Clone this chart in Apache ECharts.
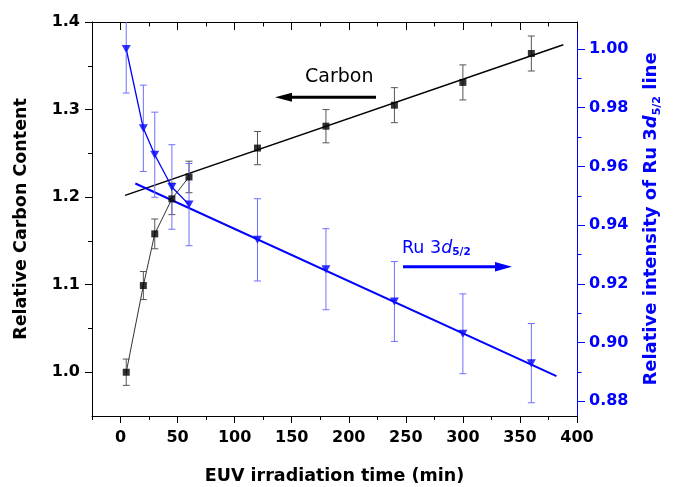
<!DOCTYPE html>
<html>
<head>
<meta charset="utf-8">
<script src="https://cdn.jsdelivr.net/npm/echarts@6/dist/echarts.min.js"></script>
<style>
html,body{margin:0;padding:0;background:#fff;}
#c{width:673px;height:487px;}
</style>
</head>
<body>
<div id="c"></div>
<script>
// ---- data ----
var times = [5, 20, 30, 45, 60, 120, 180, 240, 300, 360];
var carbon = [1.000, 1.099, 1.158, 1.198, 1.223, 1.256, 1.281, 1.305, 1.331, 1.364];
var carbonErr = [0.015, 0.016, 0.017, 0.018, 0.018, 0.019, 0.019, 0.020, 0.020, 0.020];
var ru = [1.000, 0.973, 0.964, 0.953, 0.947, 0.935, 0.925, 0.914, 0.903, 0.893];
var ruErr = [0.015, 0.0147, 0.0145, 0.0144, 0.014, 0.014, 0.0138, 0.0136, 0.0136, 0.0135];
var earlyCount = 5; // points joined by a thin line
var carbonFitX = [4, 388];
var carbonFitY = [1.202, 1.374];
var ruFitX = [13, 382];
var ruFitY = [0.9542, 0.8886];

var xMajor = [0, 50, 100, 150, 200, 250, 300, 350, 400];
var xMinor = [-25, 25, 75, 125, 175, 225, 275, 325, 375];
var leftMajor = [1.0, 1.1, 1.2, 1.3, 1.4];
var leftMinor = [1.05, 1.15, 1.25, 1.35];
var rightMajor = [0.88, 0.90, 0.92, 0.94, 0.96, 0.98, 1.00];
var rightMinor = [0.89, 0.91, 0.93, 0.95, 0.97, 0.99];

// ---- build ----
function pairs(xs, ys, n) {
  var out = [];
  for (var i = 0; i < (n || xs.length); i++) out.push([xs[i], ys[i]]);
  return out;
}
function errData(xs, ys, es) {
  var out = [];
  for (var i = 0; i < xs.length; i++) out.push([xs[i], ys[i] - es[i], ys[i] + es[i]]);
  return out;
}
function errRender(color) {
  return function (params, api) {
    var x = api.value(0);
    var lo = api.coord([x, api.value(1)]);
    var hi = api.coord([x, api.value(2)]);
    var w = 3.5;
    var st = { stroke: color, lineWidth: 1 };
    return {
      type: 'group',
      children: [
        { type: 'line', shape: { x1: lo[0], y1: lo[1], x2: hi[0], y2: hi[1] }, style: st },
        { type: 'line', shape: { x1: lo[0] - w, y1: lo[1], x2: lo[0] + w, y2: lo[1] }, style: st },
        { type: 'line', shape: { x1: hi[0] - w, y1: hi[1], x2: hi[0] + w, y2: hi[1] }, style: st }
      ]
    };
  };
}

var FF = 'DejaVu Sans';
var BLUE = '#0000ff';
var XMIN = -25, XMAX = 400;
var LMIN = 0.95, LMAX = 1.4;
var RMIN = 0.875, RMAX = 1.0092;

function line(color, show) {
  return { show: show, onZero: false, lineStyle: { color: color, width: 1 } };
}

var chart = echarts.init(document.getElementById('c'), null, { renderer: 'canvas' });
var option = {
  animation: false,
  backgroundColor: '#fff',
  grid: { left: 92, right: 96, top: 22, bottom: 71, containLabel: false, outerBoundsMode: 'none' },
  xAxis: [
    {
      type: 'value', position: 'bottom', min: XMIN, max: XMAX, interval: 25,
      axisLine: line('#000', true),
      axisTick: { show: true, customValues: xMajor, length: 7, lineStyle: { color: '#000', width: 1 } },
      axisLabel: { customValues: xMajor, margin: 14, color: '#000', fontSize: 16, fontWeight: 'bold', fontFamily: FF },
      splitLine: { show: false },
      name: 'EUV irradiation time (min)', nameLocation: 'middle', nameGap: 51,
      nameTextStyle: { color: '#000', fontSize: 17.5, fontWeight: 'bold', fontFamily: FF }
    },
    {
      type: 'value', position: 'bottom', min: XMIN, max: XMAX, interval: 25,
      axisLine: line('#000', false),
      axisTick: { show: true, customValues: xMinor, length: 4, lineStyle: { color: '#000', width: 1 } },
      axisLabel: { show: false }, splitLine: { show: false }
    },
    {
      type: 'value', position: 'top', min: XMIN, max: XMAX, interval: 25,
      axisLine: line('#000', true),
      axisTick: { show: true, inside: true, customValues: xMajor, length: 8, lineStyle: { color: '#000', width: 1 } },
      axisLabel: { show: false }, splitLine: { show: false }
    },
    {
      type: 'value', position: 'top', min: XMIN, max: XMAX, interval: 25,
      axisLine: line('#000', false),
      axisTick: { show: true, inside: true, customValues: xMinor, length: 4.5, lineStyle: { color: '#000', width: 1 } },
      axisLabel: { show: false }, splitLine: { show: false }
    }
  ],
  yAxis: [
    {
      type: 'value', position: 'left', min: LMIN, max: LMAX, interval: 0.05,
      axisLine: line('#000', true),
      axisTick: { show: true, customValues: leftMajor, length: 7, lineStyle: { color: '#000', width: 1 } },
      axisLabel: { customValues: leftMajor, margin: 12, color: '#000', fontSize: 16, fontWeight: 'bold', fontFamily: FF,
        formatter: function (v) { return Number(v).toFixed(1); } },
      splitLine: { show: false },
      name: 'Relative Carbon Content', nameLocation: 'middle', nameGap: 62, nameRotate: 90,
      nameTextStyle: { color: '#000', fontSize: 17.5, fontWeight: 'bold', fontFamily: FF }
    },
    {
      type: 'value', position: 'right', min: RMIN, max: RMAX,
      axisLine: line(BLUE, true),
      axisTick: { show: true, customValues: rightMajor, length: 8, lineStyle: { color: BLUE, width: 1 } },
      axisLabel: { customValues: rightMajor, margin: 12, color: BLUE, fontSize: 16, fontWeight: 'bold', fontFamily: FF,
        formatter: function (v) { return Number(v).toFixed(2); } },
      splitLine: { show: false },
      name: '{a|Relative intensity of Ru 3}{i|d}{s|5/2}{a| line}', nameLocation: 'middle', nameGap: 62, nameRotate: 90,
      nameTextStyle: {
        color: BLUE, fontSize: 18, fontWeight: 'bold', fontFamily: FF,
        rich: {
          a: { color: BLUE, fontSize: 18, fontWeight: 'bold', fontFamily: FF, lineHeight: 24, verticalAlign: 'middle' },
          i: { color: BLUE, fontSize: 18, fontWeight: 'bold', fontStyle: 'italic', fontFamily: FF, lineHeight: 24, verticalAlign: 'middle' },
          s: { color: BLUE, fontSize: 11, fontWeight: 'bold', fontFamily: FF, lineHeight: 11, verticalAlign: 'bottom' }
        }
      }
    },
    {
      type: 'value', position: 'left', min: LMIN, max: LMAX,
      axisLine: line('#000', false),
      axisTick: { show: true, customValues: leftMinor, length: 4, lineStyle: { color: '#000', width: 1 } },
      axisLabel: { show: false }, splitLine: { show: false }
    },
    {
      type: 'value', position: 'right', min: RMIN, max: RMAX,
      axisLine: line(BLUE, false),
      axisTick: { show: true, customValues: rightMinor, length: 4.5, lineStyle: { color: BLUE, width: 1 } },
      axisLabel: { show: false }, splitLine: { show: false }
    }
  ],
  series: [
    {
      type: 'line', xAxisIndex: 0, yAxisIndex: 0, data: pairs(times, carbon, earlyCount),
      symbol: 'none', lineStyle: { color: '#333', width: 1 }, z: 2
    },
    {
      type: 'line', xAxisIndex: 0, yAxisIndex: 0, data: pairs(carbonFitX, carbonFitY),
      symbol: 'none', lineStyle: { color: '#000', width: 1.5 }, z: 2
    },
    {
      type: 'custom', xAxisIndex: 0, yAxisIndex: 0, data: errData(times, carbon, carbonErr),
      renderItem: errRender('#555'), clip: true, z: 3
    },
    {
      type: 'scatter', xAxisIndex: 0, yAxisIndex: 0, data: pairs(times, carbon),
      symbol: 'rect', symbolSize: 7, itemStyle: { color: '#000' }, z: 5
    },
    {
      type: 'line', xAxisIndex: 0, yAxisIndex: 1, data: pairs(times, ru, earlyCount),
      symbol: 'none', lineStyle: { color: BLUE, width: 1.3 }, z: 2
    },
    {
      type: 'line', xAxisIndex: 0, yAxisIndex: 1, data: pairs(ruFitX, ruFitY),
      symbol: 'none', lineStyle: { color: BLUE, width: 2 }, z: 2
    },
    {
      type: 'custom', xAxisIndex: 0, yAxisIndex: 1, data: errData(times, ru, ruErr),
      renderItem: errRender('#7070ff'), clip: true, z: 3
    },
    {
      type: 'scatter', xAxisIndex: 0, yAxisIndex: 1, data: pairs(times, ru),
      symbol: 'triangle', symbolRotate: 180, symbolSize: [9, 8], itemStyle: { color: BLUE }, z: 5
    }
  ],
  graphic: [
    { type: 'text', left: 305, top: 68, z: 10,
      style: { text: 'Carbon', fontSize: 19, fontFamily: FF, fill: '#000' } },
    { type: 'line', z: 10, shape: { x1: 289, y1: 97.3, x2: 376, y2: 97.3 }, style: { stroke: '#000', lineWidth: 3 } },
    { type: 'polygon', z: 10, shape: { points: [[275, 97.3], [292, 92.8], [292, 101.8]] }, style: { fill: '#000' } },
    { type: 'text', left: 402, top: 239, z: 10,
      style: {
        text: '{a|Ru 3}{i|d}{s|5/2}',
        rich: {
          a: { fontSize: 17.5, fontFamily: FF, fill: BLUE, lineHeight: 20, verticalAlign: 'middle' },
          i: { fontSize: 17.5, fontFamily: FF, fontStyle: 'italic', fill: BLUE, lineHeight: 20, verticalAlign: 'middle' },
          s: { fontSize: 10.5, fontFamily: FF, fontWeight: 'bold', fill: BLUE, lineHeight: 10, verticalAlign: 'bottom' }
        }
      } },
    { type: 'line', z: 10, shape: { x1: 403, y1: 266.7, x2: 497, y2: 266.7 }, style: { stroke: BLUE, lineWidth: 3 } },
    { type: 'polygon', z: 10, shape: { points: [[512, 266.7], [495, 262], [495, 271.4]] }, style: { fill: BLUE } }
  ]
};
chart.setOption(option);
</script>
</body>
</html>
